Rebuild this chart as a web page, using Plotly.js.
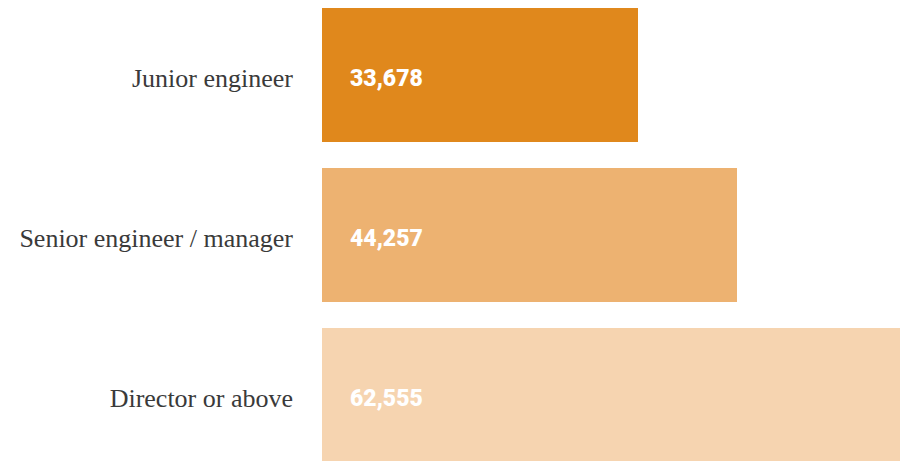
<!DOCTYPE html>
<html>
<head>
<meta charset="utf-8">
<script src="https://cdn.plot.ly/plotly-3.0.1.min.js"></script>
<style>html,body{margin:0;padding:0;background:#fff;}#chart{width:900px;height:461px;}</style>
</head>
<body>
<div id="chart"></div>
<script>
const categories = ["Junior engineer", "Senior engineer / manager", "Director or above"];
const values = [33678, 44257, 62555];
const colors = ["#E0881C", "#EDB271", "#F6D4B0"];

const trace = {
  type: "bar",
  orientation: "h",
  y: categories,
  x: values,
  marker: {color: colors, line: {width: 0}},
  width: 0.8375,
  hoverinfo: "skip"
};

const annotations = categories.map((c, i) => ({
  x: 0, y: c, xref: "x", yref: "y",
  text: values[i].toLocaleString("en-US"),
  showarrow: false, xanchor: "left", yanchor: "middle", xshift: 26, yshift: -3,
  font: {family: "Roboto, 'Liberation Sans', sans-serif", size: 23, color: "#ffffff", weight: 900}
}));

const layout = {
  width: 900, height: 461,
  margin: {l: 322, r: 0, t: 0, b: 0, pad: 0},
  paper_bgcolor: "#ffffff", plot_bgcolor: "#ffffff",
  showlegend: false,
  bargap: 0,
  xaxis: {range: [0, 61650], visible: false, fixedrange: true},
  yaxis: {
    type: "category",
    categoryorder: "array", categoryarray: categories,
    range: [2.4125, -0.46875],
    showgrid: false, zeroline: false, showline: false,
    ticks: "", ticklabelstandoff: 28, ticklabelshift: -3,
    tickfont: {family: "'Liberation Serif', 'DejaVu Serif', serif", size: 26, color: "#3a3a3a"},
    fixedrange: true
  },
  annotations: annotations
};

Plotly.newPlot("chart", [trace], layout, {displayModeBar: false, staticPlot: true});
</script>
</body>
</html>
